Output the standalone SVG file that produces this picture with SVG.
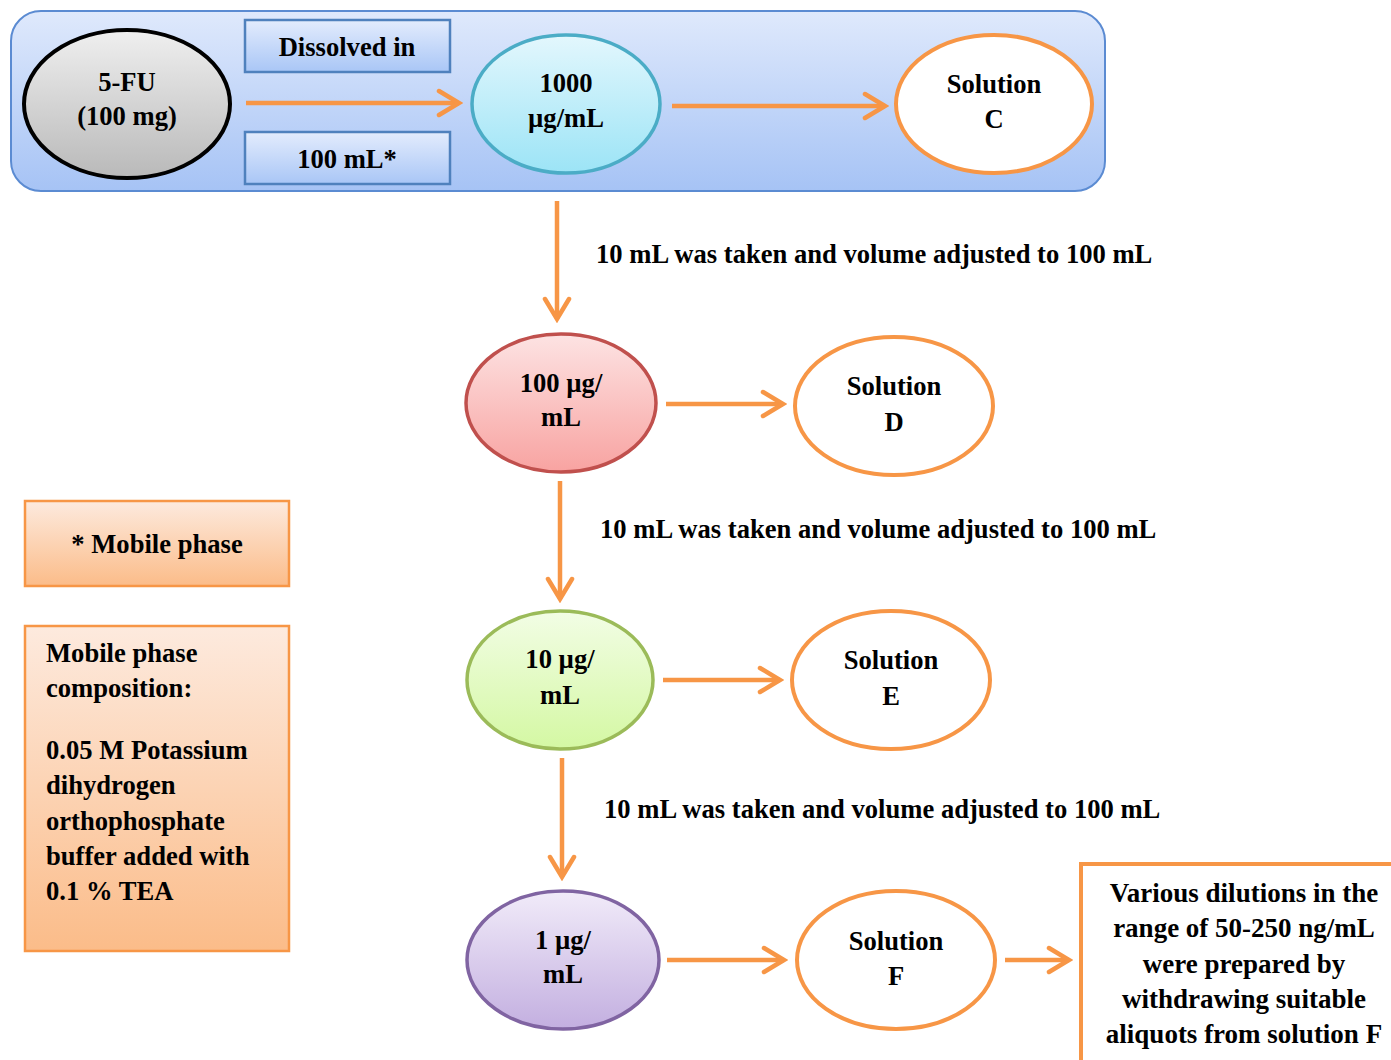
<svg xmlns="http://www.w3.org/2000/svg" width="1391" height="1060" viewBox="0 0 1391 1060">
<defs>
<linearGradient id="gPanel" x1="0" y1="0" x2="0" y2="1"><stop offset="0" stop-color="#dfe9fc"/><stop offset="1" stop-color="#a6c3f5"/></linearGradient>
<linearGradient id="gBox" x1="0" y1="0" x2="0" y2="1"><stop offset="0" stop-color="#e3ecfd"/><stop offset="1" stop-color="#a9c6f6"/></linearGradient>
<linearGradient id="gGrey" x1="0" y1="0" x2="0" y2="1"><stop offset="0" stop-color="#efefef"/><stop offset="1" stop-color="#b9b9b9"/></linearGradient>
<linearGradient id="gCyan" x1="0" y1="0" x2="0" y2="1"><stop offset="0" stop-color="#e3f7fd"/><stop offset="1" stop-color="#9ce4f6"/></linearGradient>
<linearGradient id="gRed" x1="0" y1="0" x2="0" y2="1"><stop offset="0" stop-color="#fde3e3"/><stop offset="1" stop-color="#f8a3a1"/></linearGradient>
<linearGradient id="gGreen" x1="0" y1="0" x2="0" y2="1"><stop offset="0" stop-color="#f2fde5"/><stop offset="1" stop-color="#d4f8a3"/></linearGradient>
<linearGradient id="gPurple" x1="0" y1="0" x2="0" y2="1"><stop offset="0" stop-color="#f1ebf9"/><stop offset="1" stop-color="#c3afe0"/></linearGradient>
<linearGradient id="gOrange" x1="0" y1="0" x2="0" y2="1"><stop offset="0" stop-color="#fdeade"/><stop offset="1" stop-color="#fbbc89"/></linearGradient>
<marker id="arr" markerUnits="userSpaceOnUse" viewBox="-26 -16 30 32" refX="0" refY="0" markerWidth="30" markerHeight="32" orient="auto">
<path d="M -20 -12 L 0 0 L -20 12" fill="none" stroke="#f79646" stroke-width="4.5" stroke-linecap="round" stroke-linejoin="miter"/>
</marker>
</defs>
<style>
text{font-family:"Liberation Serif","Times New Roman",serif;font-weight:bold;font-size:26.6px;fill:#000}
.c{text-anchor:middle}
.big{font-size:27px}
.conn line{stroke:#f79646;stroke-width:4.5;marker-end:url(#arr)}
.sol{fill:#fff;stroke:#f79646;stroke-width:4}
.bbox{fill:url(#gBox);stroke:#4f81bd;stroke-width:2.5}
.obox{fill:url(#gOrange);stroke:#f79646;stroke-width:2.5}
</style>
<g id="panel"><rect x="11" y="11" width="1094" height="180" rx="30" ry="30" fill="url(#gPanel)" stroke="#5b8bd2" stroke-width="2"/></g>
<g id="n5fu"><ellipse cx="127" cy="104" rx="103" ry="74" fill="url(#gGrey)" stroke="#000" stroke-width="4"/><text class="c" x="127" y="91">5-FU</text><text class="c" x="127" y="125">(100 mg)</text></g>
<g id="dissolved"><rect class="bbox" x="245" y="20" width="205" height="52"/><text class="c" x="347" y="56">Dissolved in</text></g>
<g id="ml100"><rect class="bbox" x="245" y="132" width="205" height="52"/><text class="c" x="347" y="168">100 mL*</text></g>
<g id="n1000"><ellipse cx="566" cy="104" rx="94" ry="69" fill="url(#gCyan)" stroke="#4bacc6" stroke-width="3.5"/><text class="c" x="566" y="92">1000</text><text class="c" x="566" y="127">µg/mL</text></g>
<g id="solC"><ellipse class="sol" cx="994" cy="104" rx="98" ry="69"/><text class="c" x="994" y="93">Solution</text><text class="c" x="994" y="128">C</text></g>
<g id="n100"><ellipse cx="561" cy="403" rx="95" ry="69" fill="url(#gRed)" stroke="#c0504d" stroke-width="3.5"/><text class="c" x="561" y="392">100 µg/</text><text class="c" x="561" y="426">mL</text></g>
<g id="solD"><ellipse class="sol" cx="894" cy="406" rx="99" ry="69"/><text class="c" x="894" y="395">Solution</text><text class="c" x="894" y="431">D</text></g>
<g id="n10"><ellipse cx="560" cy="680" rx="93" ry="69" fill="url(#gGreen)" stroke="#9bbb59" stroke-width="3.5"/><text class="c" x="560" y="668">10 µg/</text><text class="c" x="560" y="704">mL</text></g>
<g id="solE"><ellipse class="sol" cx="891" cy="680" rx="99" ry="69"/><text class="c" x="891" y="669">Solution</text><text class="c" x="891" y="705">E</text></g>
<g id="n1"><ellipse cx="563" cy="960" rx="96" ry="69" fill="url(#gPurple)" stroke="#8064a2" stroke-width="3.5"/><text class="c" x="563" y="949">1 µg/</text><text class="c" x="563" y="983">mL</text></g>
<g id="solF"><ellipse class="sol" cx="896" cy="960" rx="99" ry="69"/><text class="c" x="896" y="950">Solution</text><text class="c" x="896" y="985">F</text></g>
<g id="final"><rect x="1081" y="864" width="330" height="220" fill="#fff" stroke="#f79646" stroke-width="4"/>
<text class="c big" x="1244" y="902">Various dilutions in the</text>
<text class="c big" x="1244" y="937">range of 50-250 ng/mL</text>
<text class="c big" x="1244" y="973">were prepared by</text>
<text class="c big" x="1244" y="1008">withdrawing suitable</text>
<text class="c big" x="1244" y="1043">aliquots from solution F</text></g>
<g id="mobile"><rect class="obox" x="25" y="501" width="264" height="85"/><text class="c" x="157" y="553">* Mobile phase</text></g>
<g id="composition"><rect class="obox" x="25" y="626" width="264" height="325"/>
<text x="46" y="662">Mobile phase</text>
<text x="46" y="697">composition:</text>
<text x="46" y="759">0.05 M Potassium</text>
<text x="46" y="794">dihydrogen</text>
<text x="46" y="830">orthophosphate</text>
<text x="46" y="865">buffer added with</text>
<text x="46" y="900">0.1 % TEA</text></g>
<g id="labels">
<text x="596" y="263">10 mL was taken and volume adjusted to 100 mL</text>
<text x="600" y="538">10 mL was taken and volume adjusted to 100 mL</text>
<text x="604" y="818">10 mL was taken and volume adjusted to 100 mL</text>
</g>
<g id="connectors" class="conn">
<line x1="246" y1="103" x2="459" y2="103"/>
<line x1="672" y1="106" x2="885" y2="106"/>
<line x1="557" y1="201" x2="557" y2="319"/>
<line x1="666" y1="404" x2="783" y2="404"/>
<line x1="560" y1="481" x2="560" y2="599"/>
<line x1="663" y1="680" x2="780" y2="680"/>
<line x1="562" y1="758" x2="562" y2="877"/>
<line x1="667" y1="960" x2="784" y2="960"/>
<line x1="1005" y1="960" x2="1069" y2="960"/>
</g>
</svg>
